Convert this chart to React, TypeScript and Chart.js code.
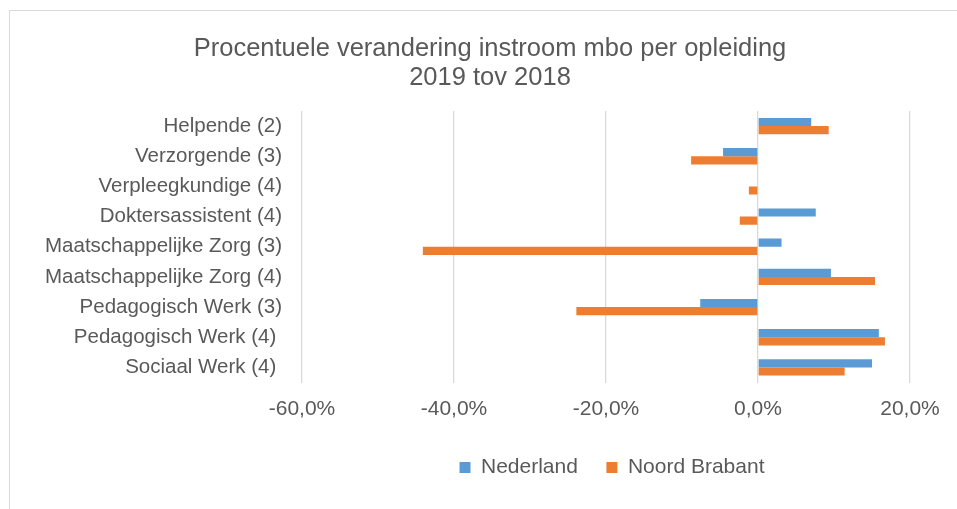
import React, { useEffect, useRef } from 'react';
import { Chart, registerables } from 'chart.js';

Chart.register(...registerables);

const categories = [
  'Helpende (2)',
  'Verzorgende (3)',
  'Verpleegkundige (4)',
  'Doktersassistent (4)',
  'Maatschappelijke Zorg (3)',
  'Maatschappelijke Zorg (4)',
  'Pedagogisch Werk (3)',
  'Pedagogisch Werk (4) ',
  'Sociaal Werk (4) ',
];
const nederland = [7.0, -4.6, 0, 7.6, 3.1, 9.6, -7.6, 15.9, 15.0];
const noordBrabant = [9.3, -8.8, -1.2, -2.4, -44.1, 15.4, -23.9, 16.7, 11.4];
const seriesNames = ['Nederland', 'Noord Brabant'];
const titleLines = ['Procentuele verandering instroom mbo per opleiding', '2019 tov 2018'];
const xTickValues = [-60, -40, -20, 0, 20];

const TEXT = '#595959';
const GRID = '#d9d9d9';
const FONT = "'Liberation Sans', Arial, sans-serif";

const boxShift = {
  id: 'boxShift',
  afterLayout(chart: any) {
    const lg = chart.legend;
    if (lg) {
      lg.left += 6;
      lg.right += 6;
    }
    const t = chart.titleBlock;
    if (t) {
      t.left += 25;
      t.right += 25;
    }
  },
};

export default function App() {
  const ref = useRef<HTMLCanvasElement | null>(null);

  useEffect(() => {
    if (!ref.current) return;
    const chart = new Chart(ref.current, {
      type: 'bar',
      data: {
        labels: categories,
        datasets: [
          {
            label: seriesNames[0],
            data: nederland,
            backgroundColor: '#5B9BD5',
            borderWidth: 0,
            categoryPercentage: 0.54,
            barPercentage: 1,
          },
          {
            label: seriesNames[1],
            data: noordBrabant,
            backgroundColor: '#ED7D31',
            borderWidth: 0,
            categoryPercentage: 0.54,
            barPercentage: 1,
          },
        ],
      },
      options: {
        indexAxis: 'y',
        animation: false,
        responsive: false,
        maintainAspectRatio: false,
        devicePixelRatio: 1,
        layout: { padding: { left: 20, right: 47, top: 22, bottom: 21 } },
        font: { family: FONT },
        plugins: {
          title: {
            display: true,
            text: titleLines,
            color: TEXT,
            font: { family: FONT, size: 25.5, weight: 'normal', lineHeight: '29px' },
            padding: { top: 12, bottom: 19 },
          },
          legend: {
            position: 'bottom',
            fullSize: false,
            labels: {
              boxWidth: 11,
              boxHeight: 11,
              padding: 28.5,
              color: TEXT,
              font: { family: FONT, size: 21 },
            },
          },
          tooltip: { enabled: false },
        },
        scales: {
          x: {
            type: 'linear',
            min: -60,
            max: 20,
            afterBuildTicks: (s: any) => {
              s.ticks = xTickValues.map((v) => ({ value: v }));
            },
            afterFit: (s: any) => {
              s.height = 46;
            },
            grid: { color: GRID, lineWidth: 1.3, drawTicks: false },
            border: { display: false },
            ticks: {
              padding: 14,
              color: TEXT,
              font: { family: FONT, size: 21 },
              callback: (v: any) => Number(v).toFixed(1).replace('.', ',') + '%',
            },
          },
          y: {
            afterFit: (s: any) => {
              s.width = 282;
            },
            grid: { display: false, drawTicks: false },
            border: { display: false },
            ticks: {
              padding: 20,
              color: TEXT,
              font: { family: FONT, size: 20.5 },
            },
          },
        },
      } as any,
      plugins: [boxShift],
    });
    return () => chart.destroy();
  }, []);

  return (
    <div
      style={{
        position: 'fixed',
        left: 0,
        top: 0,
        width: 957,
        height: 509,
        background: '#ffffff',
        overflow: 'hidden',
      }}
    >
      <div
        style={{
          position: 'absolute',
          left: 9,
          top: 10,
          right: -2,
          bottom: -2,
          borderLeft: '1px solid #d9d9d9',
          borderTop: '1px solid #d9d9d9',
        }}
      />
      <canvas
        ref={ref}
        width={957}
        height={509}
        style={{ position: 'absolute', left: 0, top: 0, width: 957, height: 509 }}
      />
    </div>
  );
}
